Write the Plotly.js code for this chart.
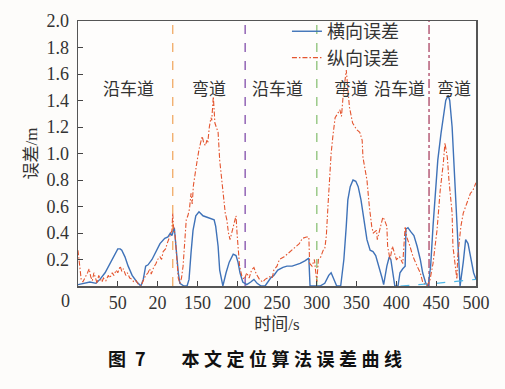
<!DOCTYPE html>
<html>
<head>
<meta charset="utf-8">
<script src="https://cdn.plot.ly/plotly-3.0.1.min.js"></script>
<style>html,body{margin:0;padding:0;background:#fdfcfa;}#chart{width:505px;height:389px;}</style>
</head>
<body>
<div id="chart"></div>
<script>
// ---- data ----
const latTime = [0,7.5,15,22.6,27.6,34,40,46.5,50,53,55,59,63,68,74,79,82,85,88,93,98,103,109,113,116,118,121,123,126,128,133,137,139.5,142,144.5,148,152,157,162,167,171,173,176,178,182,186,190,195,198.5,201,203.5,207,212,217,221,225,230,235,239,242,246,251,257.5,262.5,269,274,279,285,290,291.5,298,304,310,315,318,321.6,325,330,334,337,339,342,345.5,349,352,355.5,359,363,367,370.6,374,378,382,384,388,391,393,396,398,402,404.5,408,411,412,414.5,418,422,426,430,433,437,440,443,446,450,452,456,460,462,465,467,470,472,475,477,480,484,487,490,494,497,500];
const latErr  = [0.01,0.02,0.03,0.02,0.05,0.1,0.17,0.25,0.28,0.28,0.27,0.22,0.15,0.08,0.03,0.0,0.05,0.15,0.16,0.2,0.26,0.32,0.36,0.37,0.4,0.38,0.44,0.3,0.1,0.02,0.0,0.0,0.05,0.25,0.42,0.53,0.56,0.53,0.52,0.51,0.5,0.45,0.3,0.12,0.0,0.1,0.18,0.24,0.23,0.18,0.1,0.03,0.01,0.03,0.05,0.02,0.0,0.0,0.04,0.06,0.08,0.12,0.14,0.15,0.15,0.16,0.17,0.19,0.21,0.0,0.0,0.0,0.02,0.08,0.1,0.05,0.0,0.0,0.2,0.45,0.65,0.75,0.8,0.79,0.75,0.65,0.52,0.35,0.27,0.26,0.23,0.15,0.06,0.01,0.15,0.22,0.2,0.08,0.0,0.0,0.1,0.13,0.15,0.43,0.44,0.41,0.38,0.3,0.2,0.1,0.02,0.0,0.15,0.45,0.8,0.95,1.15,1.3,1.4,1.44,1.4,1.2,0.95,0.6,0.3,0.0,0.18,0.35,0.32,0.2,0.1,0.05];

const lonTime = [0,2,4,6,9,12,14,16,18,20,22,24,26,28,30,32,35,38,40,43,45,48,50,53,55,57,60,62,65,68,70,73,76,79,82,85,88,90,92,95,98,100,103,105,107,110,112,114,116,118,119,120,122,124,126,128,130,132,134,136,138,140,142,143.5,145,147,149,152,154,156,158,160,162,163,165,166,167,168,170,172,174,176,178,180,182,185,187,189,191,193,195,197,198.5,200,203,206,209,212,215,218,221,224,228,232,235,238,241,244,246,250,253,259,265,272,278,282,287,290,291,294,297,300,302,305,308,310,312,314,316,318,320,323,326,329,331,333,337,339,341,345,350,354,357,358,363,366,369,371,375,376,380,383,385,388,389,392,395,400,404,408,411,413,417,421,426,430,433,438,442,446,451,455,459,461,464,466,470,471,474,476,477,481,484,489,493,496,500];
const lonErr  = [0.27,0.15,0.05,0.03,0.06,0.1,0.13,0.07,0.04,0.1,0.06,0.02,0.08,0.05,0.03,0.06,0.04,0.08,0.06,0.1,0.08,0.12,0.1,0.15,0.11,0.13,0.08,0.1,0.06,0.05,0.03,0.04,0.01,0.0,0.04,0.08,0.1,0.13,0.09,0.14,0.17,0.2,0.22,0.2,0.26,0.28,0.32,0.35,0.38,0.42,0.55,0.45,0.38,0.2,0.06,0.02,0.06,0.15,0.3,0.5,0.53,0.58,0.7,0.62,0.76,0.85,0.92,1.03,1.08,1.13,1.08,1.06,1.1,1.08,1.2,1.23,1.27,1.25,1.43,1.23,1.2,1.16,0.95,0.82,0.7,0.55,0.5,0.4,0.35,0.4,0.44,0.5,0.53,0.38,0.15,0.07,0.05,0.1,0.06,0.12,0.14,0.09,0.05,0.03,0.05,0.06,0.07,0.06,0.12,0.15,0.2,0.22,0.25,0.29,0.32,0.36,0.37,0.37,0.17,0.15,0.2,0.03,0.2,0.22,0.27,0.28,0.38,0.6,0.85,1.0,1.12,1.27,1.3,1.33,1.28,1.43,1.63,1.45,1.35,1.23,1.18,1.16,1.1,0.97,0.8,0.6,0.45,0.4,0.42,0.35,0.45,0.52,0.5,0.45,0.3,0.2,0.3,0.2,0.22,0.17,0.45,0.37,0.3,0.22,0.15,0.1,0.03,0.0,0.04,0.17,0.42,0.72,0.93,1.08,0.97,0.8,0.55,0.3,0.15,0.05,0.22,0.45,0.55,0.63,0.7,0.72,0.78];

const refTime = [405,450,500];
const refErr  = [0.0,0.02,0.05];

const boundaries = [119,210,300,441];
const boundaryColors = ['#f2b070','#8a5ab0','#93c680','#b0506e'];
const boundaryDash = ['dash','dash','dash','dashdot'];

const segLabels = ['沿车道','弯道','沿车道','弯道','沿车道','弯道'];
const segPos = [64,165,251,343,404,472];
const segY = 1.5;

const yTickVals = [0.2,0.4,0.6,0.8,1.0,1.2,1.4,1.6,1.8,2.0];
const yTickText = ['0.2','0.4','0.6','0.8','1.0','1.2','1.4','1.6','1.8','2.0'];
const xTickVals = [50,100,150,200,250,300,350,400,450,500];
const xTickText = ['50','20','150','200','250','300','350','400','450','500'];
const originLabel = '0';

const seriesNames = ['横向误差','纵向误差'];
const caption = '图\u20027\u2003\u2003本\u2005文\u2005定\u2005位\u2005算\u2005法\u2005误\u2005差\u2005曲\u2005线';

// ---- chart ----
const SERIF = "'Liberation Serif', 'Times New Roman', 'Noto Sans CJK SC', serif";
const CJK = "'Noto Sans CJK SC', sans-serif";
const traces = [
  {x: latTime, y: latErr, name: seriesNames[0], type: 'scatter', mode: 'lines',
   line: {color: '#3f72b8', width: 1.4}},
  {x: lonTime, y: lonErr, name: seriesNames[1], type: 'scatter', mode: 'lines',
   line: {color: '#e4552f', width: 1.1, dash: '5px,2px,1.5px,2px'}},
  {x: refTime, y: refErr, showlegend: false, type: 'scatter', mode: 'lines',
   line: {color: '#4fb6e6', width: 1.2, dash: 'dash'}, hoverinfo: 'skip'}
];

const shapes = boundaries.map((b, i) => ({
  type: 'line', xref: 'x', yref: 'paper', x0: b, x1: b, y0: 0, y1: 1,
  line: {color: boundaryColors[i], width: 1.4, dash: boundaryDash[i]}, layer: 'below'
}));

const annotations = segLabels.map((t, i) => ({
  text: t, x: segPos[i], y: segY, xref: 'x', yref: 'y', showarrow: false,
  font: {family: CJK, size: 17, color: '#333'}
}));
annotations.push({text: originLabel, xref: 'paper', yref: 'paper', x: (65-78)/398, y: (286-301)/265,
  xanchor: 'center', yanchor: 'middle', showarrow: false, font: {family: SERIF, size: 18, color: '#333'}});
annotations.push({text: caption, xref: 'paper', yref: 'paper', x: (255-78)/398, y: (286-358)/265,
  xanchor: 'center', yanchor: 'middle', showarrow: false,
  font: {family: CJK, size: 18, color: '#111', weight: 'bold'}});

const layout = {
  width: 505, height: 389,
  margin: {l: 78, r: 29, t: 21, b: 103, pad: 0},
  paper_bgcolor: '#fdfcfa', plot_bgcolor: '#fefdfc',
  font: {family: SERIF, size: 18, color: '#333'},
  showlegend: true,
  legend: {x: 0.525, y: 1.03, xanchor: 'left', yanchor: 'top', bgcolor: 'rgba(0,0,0,0)',
    font: {family: CJK, size: 18, color: '#333'}, tracegroupgap: 0},
  xaxis: {range: [0, 500], tickvals: xTickVals, ticktext: xTickText, ticks: 'inside', ticklen: 5,
    tickcolor: '#444', showgrid: false, zeroline: false, showline: true, linecolor: '#555', linewidth: 1.5,
    mirror: true, tickfont: {family: SERIF, size: 18, color: '#333'},
    title: {text: '时间/s', font: {family: SERIF, size: 17, color: '#333'}, standoff: 6}},
  yaxis: {range: [0, 2.0], tickvals: yTickVals, ticktext: yTickText, ticks: 'inside', ticklen: 5,
    tickcolor: '#444', showgrid: false, zeroline: false, showline: true, linecolor: '#555', linewidth: 1.5,
    mirror: true, tickfont: {family: SERIF, size: 18, color: '#333'}, ticklabelstandoff: 4,
    title: {text: '误差/m', font: {family: SERIF, size: 17, color: '#333'}, standoff: 4}},
  shapes: shapes,
  annotations: annotations
};

Plotly.newPlot('chart', traces, layout, {displayModeBar: false, staticPlot: true});
</script>
</body>
</html>
